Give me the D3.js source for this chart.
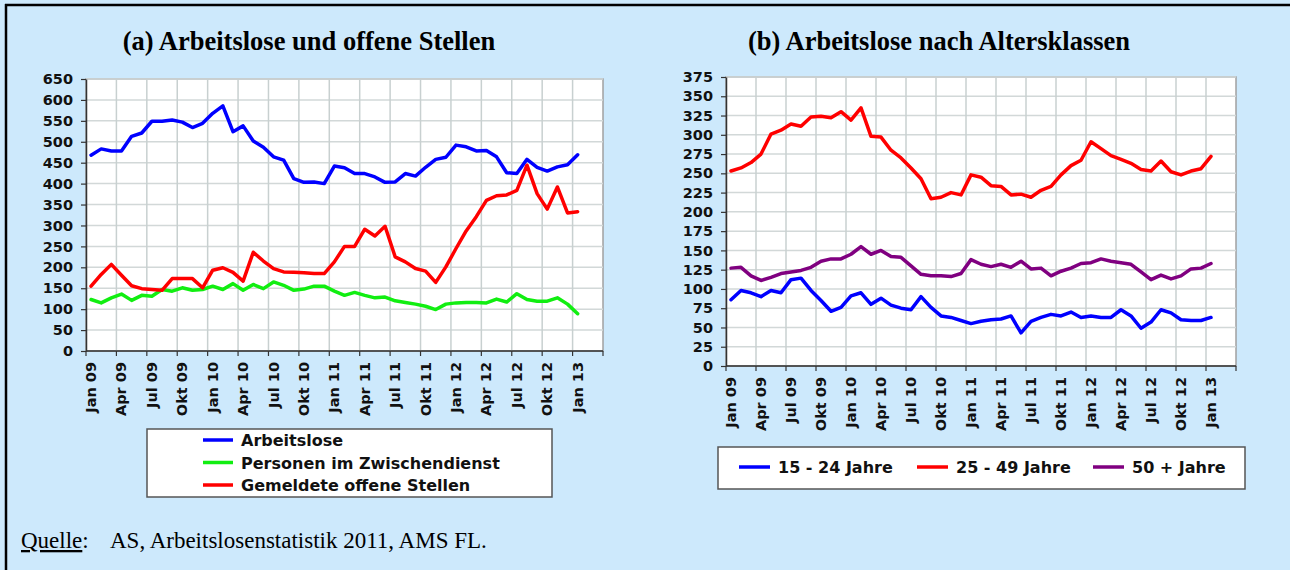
<!DOCTYPE html>
<html>
<head>
<meta charset="utf-8">
<script src="https://cdn.jsdelivr.net/npm/d3@7"></script>
<style>
  body { margin: 0; background: #cde9fc; }
  svg { display: block; }
</style>
</head>
<body>
<script>
// months on the category axis (Jan 09 .. Mar 13), data runs to Jan 13
var monthNames = ["Jan","Feb","Mär","Apr","Mai","Jun","Jul","Aug","Sep","Okt","Nov","Dez"];
var months = [];
for (var yr = 9; yr <= 13; yr++) {
  for (var m = 0; m < 12; m++) {
    if (yr === 13 && m > 2) break;
    months.push(monthNames[m] + " " + (yr < 10 ? "0" + yr : yr));
  }
}

// (a) Arbeitslose und offene Stellen
var arbeitslose = [468,483,478,478,513,521,549,549,552,547,534,544,568,586,524,538,502,487,464,456,412,403,404,400,
  442,438,424,424,416,403,404,424,418,439,458,463,492,488,478,479,464,426,424,458,439,430,440,445,469];
var zwischendienst = [123,115,127,136,121,133,131,147,143,151,145,147,155,147,161,145,159,149,165,157,145,148,155,155,
  143,133,140,133,127,129,120,116,112,107,99,112,115,116,116,115,124,117,137,123,119,119,127,112,89];
var offeneStellen = [155,183,207,181,156,149,147,145,173,173,173,151,193,199,188,167,236,215,197,189,188,187,185,185,
  213,250,250,291,275,298,225,213,197,191,164,201,245,287,321,360,371,373,384,444,376,339,392,330,333];

// (b) Arbeitslose nach Altersklassen
var jahre15_24 = [86,98,95,90,98,95,112,114,98,85,71,76,91,95,80,88,79,75,73,90,76,65,63,59,55,58,
  60,61,65,43,58,63,67,65,70,63,65,63,63,73,65,49,57,73,69,60,59,59,63];
var jahre25_49 = [253,257,264,275,301,306,314,311,323,324,322,330,319,335,298,297,280,270,257,243,217,219,225,222,248,245,
  234,233,222,223,219,228,233,248,260,267,291,282,273,268,263,255,253,266,252,248,253,256,272];
var jahre50 = [127,128,117,111,115,120,122,124,128,136,139,139,145,155,145,150,142,141,130,119,117,117,116,120,138,132,
  129,132,128,136,126,127,117,123,127,133,134,139,136,134,132,122,112,118,113,117,126,127,133];

var ticksA = d3.range(0, 651, 50);
var ticksB = d3.range(0, 376, 25);

var svg = d3.select("body").append("svg").attr("width", 1290).attr("height", 570);

svg.append("rect").attr("width", 1290).attr("height", 570).attr("fill", "#cde9fc");
// frame (top and left edges)
svg.append("line").attr("x1", 5).attr("x2", 1290).attr("y1", 5).attr("y2", 5).attr("stroke", "#000").attr("stroke-width", 2.5);
svg.append("line").attr("x1", 6).attr("x2", 6).attr("y1", 4).attr("y2", 570).attr("stroke", "#000").attr("stroke-width", 2.5);

var labelFont = "'DejaVu Sans', Arial, sans-serif";

function drawChart(opt) {
  var g = svg.append("g");
  var x = d3.scaleBand().domain(months).range([opt.x0, opt.x1]).padding(0);
  var y = d3.scaleLinear().domain([0, opt.ymax]).range([opt.y0, opt.y1]);

  g.append("rect")
    .attr("x", opt.x0).attr("y", opt.y1)
    .attr("width", opt.x1 - opt.x0).attr("height", opt.y0 - opt.y1)
    .attr("fill", "#fff").attr("stroke", "#a0a0a0").attr("stroke-width", 1.5);

  // horizontal grid
  g.selectAll(".hg").data(opt.ticks.slice(1)).enter().append("line")
    .attr("x1", opt.x0).attr("x2", opt.x1)
    .attr("y1", function(d){ return y(d); }).attr("y2", function(d){ return y(d); })
    .attr("stroke", "#d2d8d8").attr("stroke-width", 1.5);

  // vertical grid at every third month boundary
  var tickMonths = months.filter(function(d, i){ return i % 3 === 0; });
  var bounds = tickMonths.map(function(d){ return x(d); }).concat([opt.x1]);
  g.selectAll(".vg").data(bounds.slice(1, -1)).enter().append("line")
    .attr("x1", function(d){ return d; }).attr("x2", function(d){ return d; })
    .attr("y1", opt.y1).attr("y2", opt.y0)
    .attr("stroke", "#c8d0d0").attr("stroke-width", 1.5);

  // y axis
  var yAxis = g.append("g").attr("transform", "translate(" + opt.x0 + ",0)")
    .call(d3.axisLeft(y).tickValues(opt.ticks).tickSize(5).tickPadding(8).tickSizeOuter(0));
  yAxis.select(".domain").attr("stroke", "#333").attr("stroke-width", 1.5);
  yAxis.selectAll(".tick line").attr("stroke", "#333").attr("stroke-width", 1.2);
  yAxis.selectAll("text").attr("font-family", labelFont).attr("font-weight", "bold")
    .attr("font-size", "14.5px").attr("fill", "#111");

  // x axis line and tick marks
  g.append("line").attr("x1", opt.x0).attr("x2", opt.x1).attr("y1", opt.y0).attr("y2", opt.y0)
    .attr("stroke", "#333").attr("stroke-width", 1.5);
  g.selectAll(".xt").data(bounds).enter().append("line")
    .attr("x1", function(d){ return d; }).attr("x2", function(d){ return d; })
    .attr("y1", opt.y0).attr("y2", opt.y0 + 5)
    .attr("stroke", "#333").attr("stroke-width", 1.2);

  // x labels, rotated
  var labelMonths = tickMonths.filter(function(d){ return months.indexOf(d) < opt.series[0].values.length; });
  g.selectAll(".xl").data(labelMonths).enter().append("text")
    .attr("transform", function(d){
      return "translate(" + (x(d) + x.bandwidth() / 2 + 5) + "," + (opt.y0 + 11) + ") rotate(-90)";
    })
    .attr("text-anchor", "end")
    .attr("font-family", labelFont).attr("font-weight", "bold").attr("font-size", "14.5px")
    .attr("fill", "#111")
    .text(function(d){ return d; });

  var line = d3.line()
    .x(function(d, i){ return x(months[i]) + x.bandwidth() / 2; })
    .y(function(d){ return y(d); });

  opt.series.forEach(function(s){
    g.append("path").datum(s.values)
      .attr("d", line)
      .attr("fill", "none").attr("stroke", s.color)
      .attr("stroke-width", 3.5).attr("stroke-linejoin", "round").attr("stroke-linecap", "round");
  });

  // title
  svg.append("text").attr("x", opt.titleX).attr("y", 50)
    .attr("text-anchor", "middle")
    .attr("font-family", "'Liberation Serif', 'Times New Roman', serif")
    .attr("font-weight", "bold").attr("font-size", "26.5px").attr("fill", "#000")
    .text(opt.title);
}

var seriesA = [
  { name: "Arbeitslose", values: arbeitslose, color: "#0000ff" },
  { name: "Personen im Zwischendienst", values: zwischendienst, color: "#11ee11" },
  { name: "Gemeldete offene Stellen", values: offeneStellen, color: "#ff0000" }
];
var seriesB = [
  { name: "15 - 24 Jahre", values: jahre15_24, color: "#0000ff" },
  { name: "25 - 49 Jahre", values: jahre25_49, color: "#ff0000" },
  { name: "50 + Jahre", values: jahre50, color: "#800080" }
];

drawChart({ x0: 86, x1: 603, y0: 351, y1: 79, ymax: 650, ticks: ticksA, series: seriesA,
  title: "(a) Arbeitslose und offene Stellen", titleX: 309 });
drawChart({ x0: 726, x1: 1236, y0: 366, y1: 77, ymax: 375, ticks: ticksB, series: seriesB,
  title: "(b) Arbeitslose nach Altersklassen", titleX: 939 });

// legend (a): stacked
var legA = svg.append("g");
legA.append("rect").attr("x", 147).attr("y", 429).attr("width", 405).attr("height", 68)
  .attr("fill", "#fff").attr("stroke", "#555").attr("stroke-width", 1.5);
var la = legA.selectAll(".it").data(seriesA).enter().append("g")
  .attr("transform", function(d, i){ return "translate(0," + (440 + i * 22.5) + ")"; });
la.append("line").attr("x1", 203).attr("x2", 233).attr("y1", 0).attr("y2", 0)
  .attr("stroke", function(d){ return d.color; }).attr("stroke-width", 3.5);
la.append("text").attr("x", 241).attr("y", 6)
  .attr("font-family", labelFont).attr("font-weight", "bold").attr("font-size", "16px").attr("fill", "#111")
  .text(function(d){ return d.name; });

// legend (b): in a row
var legB = svg.append("g");
legB.append("rect").attr("x", 718).attr("y", 447).attr("width", 527).attr("height", 42)
  .attr("fill", "#fff").attr("stroke", "#555").attr("stroke-width", 1.5);
var legBx = [739, 917, 1093];
var lb = legB.selectAll(".it").data(seriesB).enter().append("g")
  .attr("transform", function(d, i){ return "translate(" + legBx[i] + ",467)"; });
lb.append("line").attr("x1", 0).attr("x2", 31).attr("y1", 0).attr("y2", 0)
  .attr("stroke", function(d){ return d.color; }).attr("stroke-width", 3.5);
lb.append("text").attr("x", 39).attr("y", 6)
  .attr("font-family", labelFont).attr("font-weight", "bold").attr("font-size", "16px").attr("fill", "#111")
  .text(function(d){ return d.name; });

// source line
var src = svg.append("text").attr("y", 548)
  .attr("font-family", "'Liberation Serif', 'Times New Roman', serif").attr("font-size", "23px").attr("fill", "#000");
src.append("tspan").attr("x", 21).attr("text-decoration", "underline").text("Quelle");
src.append("tspan").text(":");
src.append("tspan").attr("x", 110).text("AS, Arbeitslosenstatistik 2011, AMS FL.");
</script>
</body>
</html>
